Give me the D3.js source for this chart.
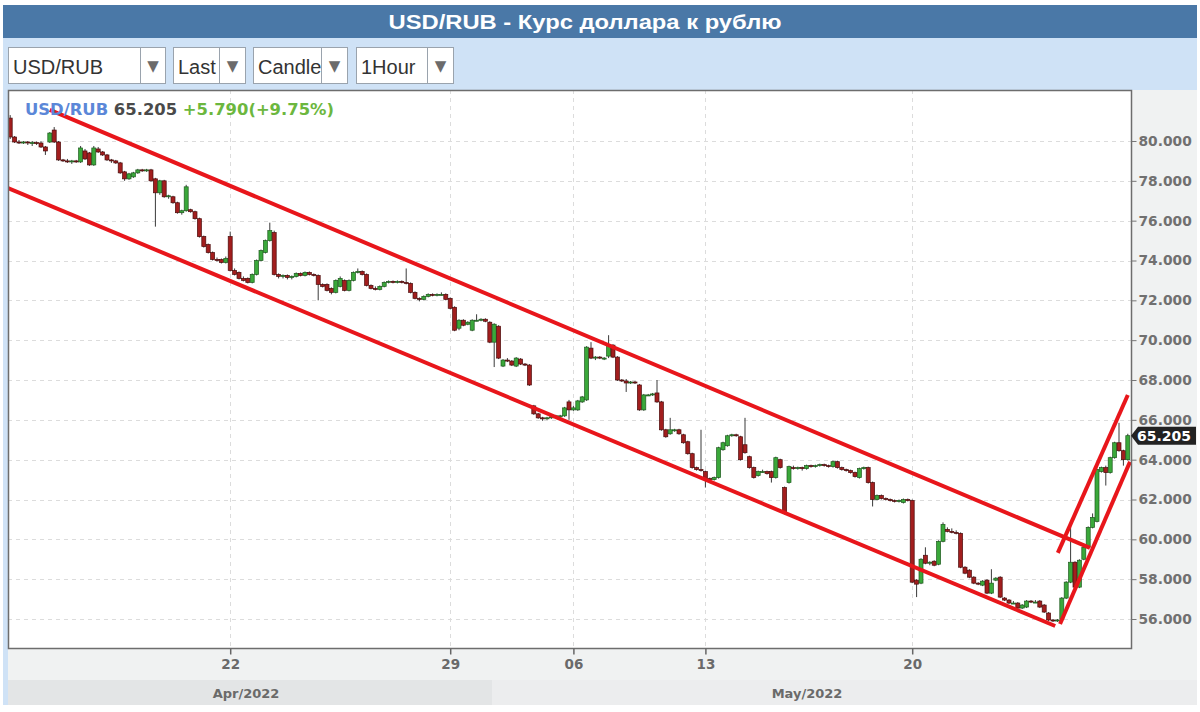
<!DOCTYPE html>
<html><head><meta charset="utf-8">
<script src="https://cdn.jsdelivr.net/npm/d3@7"></script>
<style>body{margin:0;background:#fff;}svg{display:block;}</style>
</head><body>
<svg id="chart" width="1200" height="712"></svg>
<script>
// ---------------- DATA ----------------
const titleText = "USD/RUB - Курс доллара к рублю";
const selectorLabels = ["USD/RUB", "Last", "Candle", "1Hour"];
const symbol = "USD/RUB";
const lastPrice = 65.205;
const changeText = "+5.790(+9.75%)";
const yTicks = [56, 58, 60, 62, 64, 66, 68, 70, 72, 74, 76, 78, 80];
const xTickIdx = [50, 100, 128, 158, 205];
const xTickLabels = ["22", "29", "06", "13", "20"];
const monthLabels = ["Apr/2022", "May/2022"];
const monthStartIdx = [-0.5, 109.5];

const open = [
81.15,80.2,79.95,79.9,79.95,79.9,79.92,79.9,79.7,79.95,
80.55,79.95,79.05,79.0,78.95,79.0,78.95,79.5,79.4,78.8,
79.6,79.45,79.3,79.05,79.0,78.9,78.45,78.1,78.2,78.4,
78.55,78.5,78.55,78.1,77.4,78.0,77.2,77.2,76.9,76.4,
76.5,76.55,76.45,76.1,75.2,74.8,74.4,74.05,74.05,73.9,
75.2,73.5,73.4,73.1,73.1,72.9,73.3,74.0,74.4,75.0,
75.4,73.3,73.2,73.25,73.15,73.2,73.35,73.25,73.4,73.3,
73.25,72.8,72.8,72.6,72.4,72.7,73.0,72.5,73.0,73.4,
73.45,73.3,72.75,72.6,72.55,72.7,72.9,72.95,72.9,72.95,
72.9,72.85,72.4,72.1,72.05,72.2,72.3,72.25,72.3,72.3,
72.1,71.65,70.6,71.0,70.8,70.5,71.0,71.0,71.05,70.9,
69.9,70.7,68.7,69.0,68.95,68.7,69.05,68.8,68.75,66.7,
66.3,66.1,66.05,66.1,66.15,66.2,66.2,66.9,66.5,66.5,
66.9,67.0,69.6,69.1,69.15,69.1,69.2,69.75,69.15,68.0,
67.95,67.85,67.9,67.75,66.5,67.25,67.25,67.35,66.9,65.5,
65.3,65.5,65.5,65.25,64.9,64.3,63.6,63.5,63.4,63.05,
63.0,63.1,64.5,64.7,65.2,65.25,65.15,64.75,64.15,63.6,
63.2,63.4,63.4,63.4,63.1,64.0,62.6,62.85,63.6,63.55,
63.6,63.55,63.7,63.65,63.7,63.75,63.7,63.65,63.9,63.6,
63.5,63.45,63.35,63.1,63.55,63.6,62.85,62.0,62.2,62.05,
62.0,61.95,61.9,61.85,62.0,61.95,57.95,57.8,59.2,58.8,
58.9,58.75,59.9,60.5,60.4,60.35,60.3,58.6,58.45,58.1,
57.8,57.7,57.95,57.3,57.95,58.1,57.05,56.95,56.8,56.8,
56.55,56.6,56.9,56.85,56.9,56.7,56.3,55.95,55.9,56.0,
57.05,57.85,58.85,57.6,59.0,59.6,60.6,60.9,63.4,63.6,
63.35,64.1,64.85,64.45,64.0];

const high = [
81.3,80.25,80.05,80.0,80.0,80.0,79.98,79.98,79.75,80.45,
80.7,80.0,79.1,79.1,79.05,79.05,79.75,79.6,79.45,79.75,
79.7,79.5,79.35,79.1,79.05,78.95,78.5,78.4,78.45,78.6,
78.6,78.6,78.6,78.15,78.05,78.05,77.3,77.25,76.95,76.55,
77.8,76.6,76.5,76.15,75.25,74.85,74.45,74.15,74.1,74.2,
75.45,73.6,73.45,73.2,73.15,73.35,74.05,74.55,75.05,75.9,
75.5,73.35,73.3,73.3,73.25,73.4,73.4,73.45,73.45,73.35,
73.3,72.85,72.85,72.65,73.05,73.2,73.05,73.05,73.45,73.6,
73.5,73.35,72.8,72.7,72.75,72.95,73.0,73.0,73.0,73.0,
73.6,72.9,72.45,72.15,72.25,72.35,72.35,72.35,72.4,72.35,
72.15,71.7,71.05,71.05,70.95,71.05,71.3,71.1,71.1,70.95,
70.85,70.75,69.05,69.1,69.0,69.15,69.1,68.85,68.8,66.75,
66.35,66.15,66.15,66.2,66.25,66.25,66.65,67.0,66.7,67.0,
67.2,69.7,69.9,69.2,69.2,69.15,70.25,69.8,69.2,68.05,
68.05,67.95,67.95,67.8,67.3,67.3,67.35,68.0,66.95,65.55,
66.1,65.55,65.55,65.3,64.95,64.35,63.65,65.5,63.45,63.1,
63.15,64.65,64.9,65.25,65.3,65.3,65.2,66.1,64.2,63.65,
63.45,63.5,63.45,63.45,64.15,64.05,62.65,63.7,63.7,63.65,
63.65,63.75,63.75,63.75,63.8,63.8,63.75,63.95,63.95,63.65,
63.55,63.5,63.4,63.6,63.65,63.65,62.9,62.25,62.25,62.1,
62.05,62.0,62.0,62.05,62.05,62.0,58.0,59.05,59.6,58.9,
58.95,59.95,60.85,60.6,60.55,60.45,60.35,58.65,58.5,58.15,
57.85,57.95,58.0,58.5,58.1,58.15,57.1,57.0,56.9,56.85,
56.75,56.95,56.95,56.95,56.95,56.75,56.35,56.0,56.0,57.1,
57.9,60.8,58.9,59.0,59.65,60.65,61.3,63.55,63.65,63.7,
64.15,64.9,65.85,64.5,65.3];

const low = [
80.1,79.9,79.85,79.85,79.8,79.75,79.8,79.65,79.3,79.9,
79.9,79.0,78.95,78.9,78.85,78.9,78.9,79.05,78.75,78.75,
79.4,79.25,79.0,78.9,78.85,78.35,78.0,78.05,78.15,78.35,
78.45,78.45,77.95,75.7,77.3,77.15,77.1,76.85,76.35,76.3,
76.45,76.4,76.05,75.15,74.65,74.35,74.0,73.95,73.85,73.85,
73.45,73.25,73.05,72.95,72.85,72.85,73.25,73.95,74.35,74.95,
73.25,73.1,73.1,73.05,73.05,73.15,73.2,73.2,73.25,73.2,
72.0,72.65,72.45,72.3,72.35,72.65,72.45,72.45,72.95,73.35,
73.25,72.7,72.55,72.5,72.5,72.65,72.85,72.85,72.85,72.85,
72.8,72.35,72.05,71.95,72.0,72.15,72.2,72.2,72.25,72.0,
71.55,70.45,70.5,70.7,70.75,70.45,70.95,70.95,70.9,69.85,
68.65,69.05,68.65,68.9,68.7,68.65,68.75,68.7,67.7,66.25,
66.05,65.95,66.0,66.05,66.1,66.1,66.15,66.0,66.45,66.45,
66.85,66.95,69.05,69.0,69.05,69.0,69.1,69.1,67.95,67.9,
67.4,67.8,67.8,66.45,66.45,67.2,67.2,66.85,65.45,65.1,
65.25,65.4,65.25,64.8,64.25,63.55,63.45,63.4,62.6,62.95,
62.95,63.05,64.45,64.65,65.15,65.15,63.95,64.3,63.55,63.05,
63.15,63.35,63.25,62.85,63.05,63.55,61.25,62.8,63.5,63.5,
63.45,63.5,63.6,63.6,63.65,63.65,63.6,63.6,63.55,63.45,
63.4,63.3,63.1,63.05,63.5,62.8,61.65,61.95,62.0,61.95,
61.9,61.85,61.85,61.8,61.9,57.8,57.1,57.75,58.75,58.7,
58.65,58.7,59.85,60.35,60.3,60.25,58.55,58.25,58.05,57.75,
57.7,57.65,57.25,57.25,57.9,57.05,56.9,56.75,56.75,56.5,
56.5,56.55,56.8,56.8,56.55,56.3,55.9,55.85,55.85,55.95,
57.0,57.8,57.55,57.55,58.95,59.55,60.55,60.85,63.35,62.7,
63.3,64.05,64.4,63.7,63.95];

const close = [
80.2,79.95,79.9,79.95,79.9,79.92,79.88,79.7,79.5,80.4,
79.95,79.05,79.0,78.95,79.0,78.95,79.65,79.1,78.8,79.65,
79.45,79.3,79.05,79.0,78.9,78.4,78.1,78.35,78.4,78.55,
78.5,78.55,78.0,77.4,78.0,77.2,77.25,76.9,76.4,76.5,
77.7,76.45,76.1,75.2,74.7,74.4,74.05,74.0,73.9,74.1,
73.5,73.3,73.1,73.0,72.9,73.3,74.0,74.5,75.0,75.5,
73.3,73.2,73.25,73.15,73.2,73.35,73.25,73.4,73.3,73.25,
72.8,72.7,72.5,72.4,73.0,73.1,72.5,73.0,73.4,73.45,
73.3,72.75,72.6,72.55,72.7,72.9,72.95,72.9,72.95,72.9,
72.85,72.4,72.1,72.05,72.2,72.3,72.25,72.3,72.3,72.05,
71.6,70.5,71.0,70.75,70.9,71.0,71.0,71.05,70.95,69.9,
70.8,69.1,69.0,68.95,68.75,69.1,68.8,68.75,67.75,66.3,
66.1,66.05,66.1,66.15,66.2,66.2,66.6,66.5,66.6,66.95,
67.15,69.65,69.1,69.15,69.1,69.1,69.75,69.15,68.0,67.95,
67.85,67.9,67.85,66.5,67.25,67.25,67.3,66.9,65.5,65.15,
65.5,65.5,65.3,64.85,64.3,63.6,63.5,63.45,63.05,63.0,
63.1,64.6,64.85,65.2,65.25,65.2,64.0,64.35,63.6,63.1,
63.4,63.4,63.3,63.1,64.1,63.6,61.3,63.65,63.55,63.6,
63.55,63.7,63.65,63.7,63.75,63.7,63.65,63.9,63.6,63.5,
63.45,63.35,63.15,63.55,63.6,62.85,62.0,62.2,62.05,62.0,
61.95,61.9,61.95,62.0,61.95,57.85,57.75,59.0,58.8,58.85,
58.7,59.9,60.75,60.4,60.35,60.3,58.6,58.3,58.1,57.8,
57.75,57.9,57.3,57.8,58.05,57.1,56.95,56.8,56.8,56.55,
56.7,56.9,56.85,56.85,56.6,56.35,55.95,55.9,55.95,57.05,
57.85,58.85,57.6,58.95,59.6,60.6,61.1,63.5,63.6,63.35,
64.1,64.85,64.45,64.0,65.205];

// trend lines drawn on the chart: [candle index, price] pairs
const channelUpper = [[9.0, 81.56], [245.4, 59.57]];
const channelLower = [[-0.5, 77.64], [237.5, 55.65]];
const risingUpper = [[238.1, 59.32], [254.0, 67.25]];
const risingLower = [[238.6, 55.75], [254.5, 63.89]];

// ---------------- DRAW ----------------
const svg = d3.select("#chart");
const W = 1200, H = 712;
const P = {left: 8, right: 1131, top: 90, bottom: 648};

svg.append("rect").attr("width", W).attr("height", H).attr("fill", "#ffffff");
// frame / toolbar
svg.append("rect").attr("x", 3).attr("y", 38).attr("width", 1194).attr("height", 667).attr("fill", "#cfe2f6");
svg.append("rect").attr("x", 3).attr("y", 5).attr("width", 1194).attr("height", 33).attr("fill", "#4a78a7");
svg.append("text").attr("x", 585).attr("y", 29).attr("text-anchor", "middle")
  .attr("font-family", "Liberation Sans, Arial, sans-serif").attr("font-weight", "bold")
  .attr("font-size", 21).attr("fill", "#ffffff")
  .attr("textLength", 393).attr("lengthAdjust", "spacingAndGlyphs").text(titleText);

// dropdowns
const ddLayout = [
  {x: 8, w: 157, sep: 140},
  {x: 173, w: 72, sep: 219},
  {x: 253, w: 94, sep: 321},
  {x: 356, w: 97, sep: 427}
];
selectorLabels.forEach((lab, i) => {
  const d = ddLayout[i];
  const g = svg.append("g");
  g.append("rect").attr("x", d.x + 0.5).attr("y", 47.5).attr("width", d.w).attr("height", 36)
    .attr("fill", "#ffffff").attr("stroke", "#9aa3ad");
  g.append("line").attr("x1", d.sep + 0.5).attr("x2", d.sep + 0.5).attr("y1", 48).attr("y2", 83)
    .attr("stroke", "#9aa3ad");
  const cp = "clip" + i;
  svg.append("clipPath").attr("id", cp).append("rect").attr("x", d.x).attr("y", 47).attr("width", d.sep - d.x).attr("height", 37);
  g.append("text").attr("x", d.x + 5).attr("y", 74).attr("clip-path", `url(#${cp})`)
    .attr("font-family", "Liberation Sans, Arial, sans-serif").attr("font-size", 20)
    .attr("fill", "#333").text(lab);
  g.append("text").attr("x", (d.sep + d.x + d.w) / 2 + 0.5).attr("y", 71).attr("text-anchor", "middle")
    .attr("font-family", "DejaVu Sans, sans-serif").attr("font-size", 15).attr("fill", "#6b6b6b").text("▼");
});

// axis backgrounds
svg.append("rect").attr("x", P.right).attr("y", P.top).attr("width", 1197 - P.right).attr("height", P.bottom - P.top).attr("fill", "#f0f2f2");
svg.append("rect").attr("x", P.left).attr("y", P.bottom).attr("width", 1197 - P.left).attr("height", 32).attr("fill", "#f0f2f2");

const n = Math.min(open.length, high.length, low.length, close.length);
const x = d3.scaleLinear().domain([-0.5, 254.5]).range([P.left, 1130]);
const y = d3.scaleLinear().domain([56, 80]).range([619, 141]);

// month bands
const monthEnd = [monthStartIdx[1], 254.5];
monthLabels.forEach((m, i) => {
  const x0 = x(monthStartIdx[i]);
  const x1 = i === monthLabels.length - 1 ? 1197 : x(monthEnd[i]);
  svg.append("rect").attr("x", x0).attr("y", 680).attr("width", x1 - x0).attr("height", 25)
    .attr("fill", i === 0 ? "#e3e5e6" : "#ecedee");
  svg.append("text").attr("x", (x(monthStartIdx[i]) + x(monthEnd[i])) / 2 - 4).attr("y", 698)
    .attr("text-anchor", "middle").attr("font-family", "DejaVu Sans, sans-serif").attr("font-weight", "bold")
    .attr("font-size", 13).attr("fill", "#6a6a6a").text(m);
});

// plot background
svg.append("rect").attr("x", P.left).attr("y", P.top).attr("width", P.right - P.left).attr("height", P.bottom - P.top).attr("fill", "#ffffff");

// grid
const grid = svg.append("g").attr("stroke", "#dcdcdc").attr("stroke-dasharray", "4,4").attr("stroke-width", 1);
yTicks.forEach(v => grid.append("line").attr("x1", P.left).attr("x2", P.right).attr("y1", Math.round(y(v)) + 0.5).attr("y2", Math.round(y(v)) + 0.5));
xTickIdx.forEach(v => grid.append("line").attr("y1", P.top).attr("y2", P.bottom).attr("x1", Math.round(x(v)) + 0.5).attr("x2", Math.round(x(v)) + 0.5));

// clip for plot
svg.append("clipPath").attr("id", "plotClip").append("rect").attr("x", P.left).attr("y", P.top).attr("width", P.right - P.left).attr("height", P.bottom - P.top);
const plot = svg.append("g").attr("clip-path", "url(#plotClip)");

// candles
const idx = d3.range(n);
const bw = 4;
plot.append("g").selectAll("line").data(idx).join("line")
  .attr("x1", i => x(i)).attr("x2", i => x(i))
  .attr("y1", i => y(high[i])).attr("y2", i => y(low[i]))
  .attr("stroke", "#3a3a3a").attr("stroke-width", 1);
plot.append("g").selectAll("rect").data(idx).join("rect")
  .attr("x", i => x(i) - bw / 2)
  .attr("y", i => y(Math.max(open[i], close[i])))
  .attr("width", bw)
  .attr("height", i => Math.max(1, Math.abs(y(open[i]) - y(close[i]))))
  .attr("fill", i => close[i] >= open[i] ? "#3aa83a" : "#a21e1e")
  .attr("stroke", i => close[i] >= open[i] ? "#1f5a1f" : "#4a0c0c")
  .attr("stroke-width", 0.7);

// trend lines
const lineGen = d3.line().x(d => x(d[0])).y(d => y(d[1]));
[channelUpper, channelLower, risingUpper, risingLower].forEach(l => {
  plot.append("path").attr("d", lineGen(l)).attr("fill", "none")
    .attr("stroke", "#e8161b").attr("stroke-width", 4).attr("stroke-linecap", "butt");
});

// borders
svg.append("rect").attr("x", P.left + 0.5).attr("y", P.top + 0.5).attr("width", P.right - P.left).attr("height", P.bottom - P.top)
  .attr("fill", "none").attr("stroke", "#6d6d6d").attr("stroke-width", 1.5);

// y axis (right)
const yAxis = d3.axisRight(y).tickValues(yTicks).tickFormat(d3.format(".3f")).tickSize(5).tickPadding(2);
const ya = svg.append("g").attr("transform", `translate(${P.right + 0.5},0)`).call(yAxis);
ya.select(".domain").remove();
ya.selectAll(".tick line").attr("stroke", "#777");
ya.selectAll(".tick text").attr("font-family", "DejaVu Sans, sans-serif").attr("font-weight", "bold")
  .attr("font-size", 13.8).attr("fill", "#707070");

// x axis
const xAxis = d3.axisBottom(x).tickValues(xTickIdx).tickFormat((d, i) => xTickLabels[i]).tickSize(6).tickPadding(5);
const xa = svg.append("g").attr("transform", `translate(0,${P.bottom + 0.5})`).call(xAxis);
xa.select(".domain").remove();
xa.selectAll(".tick line").attr("stroke", "#666").attr("stroke-width", 1.5);
xa.selectAll(".tick text").attr("font-family", "DejaVu Sans, sans-serif").attr("font-weight", "bold")
  .attr("font-size", 13.5).attr("fill", "#6a6a6a");

// price tag
const py = y(lastPrice);
svg.append("path").attr("d", `M${P.right},${py} L${P.right + 7},${py - 9} L1196,${py - 9} L1196,${py + 9} L${P.right + 7},${py + 9} Z`)
  .attr("fill", "#222");
svg.append("text").attr("x", 1164).attr("y", py + 5).attr("text-anchor", "middle")
  .attr("font-family", "DejaVu Sans, sans-serif").attr("font-weight", "bold").attr("font-size", 14)
  .attr("fill", "#ffffff").text(d3.format(".3f")(lastPrice));

// legend
const leg = svg.append("text").attr("x", 25).attr("y", 115)
  .attr("font-family", "DejaVu Sans, sans-serif").attr("font-weight", "bold").attr("font-size", 16.4);
leg.append("tspan").attr("fill", "#5b87d8").text(symbol);
leg.append("tspan").attr("fill", "#4a4a4a").text(" " + d3.format(".3f")(lastPrice));
leg.append("tspan").attr("fill", "#6cb73e").text(" " + changeText);
</script>
</body></html>
